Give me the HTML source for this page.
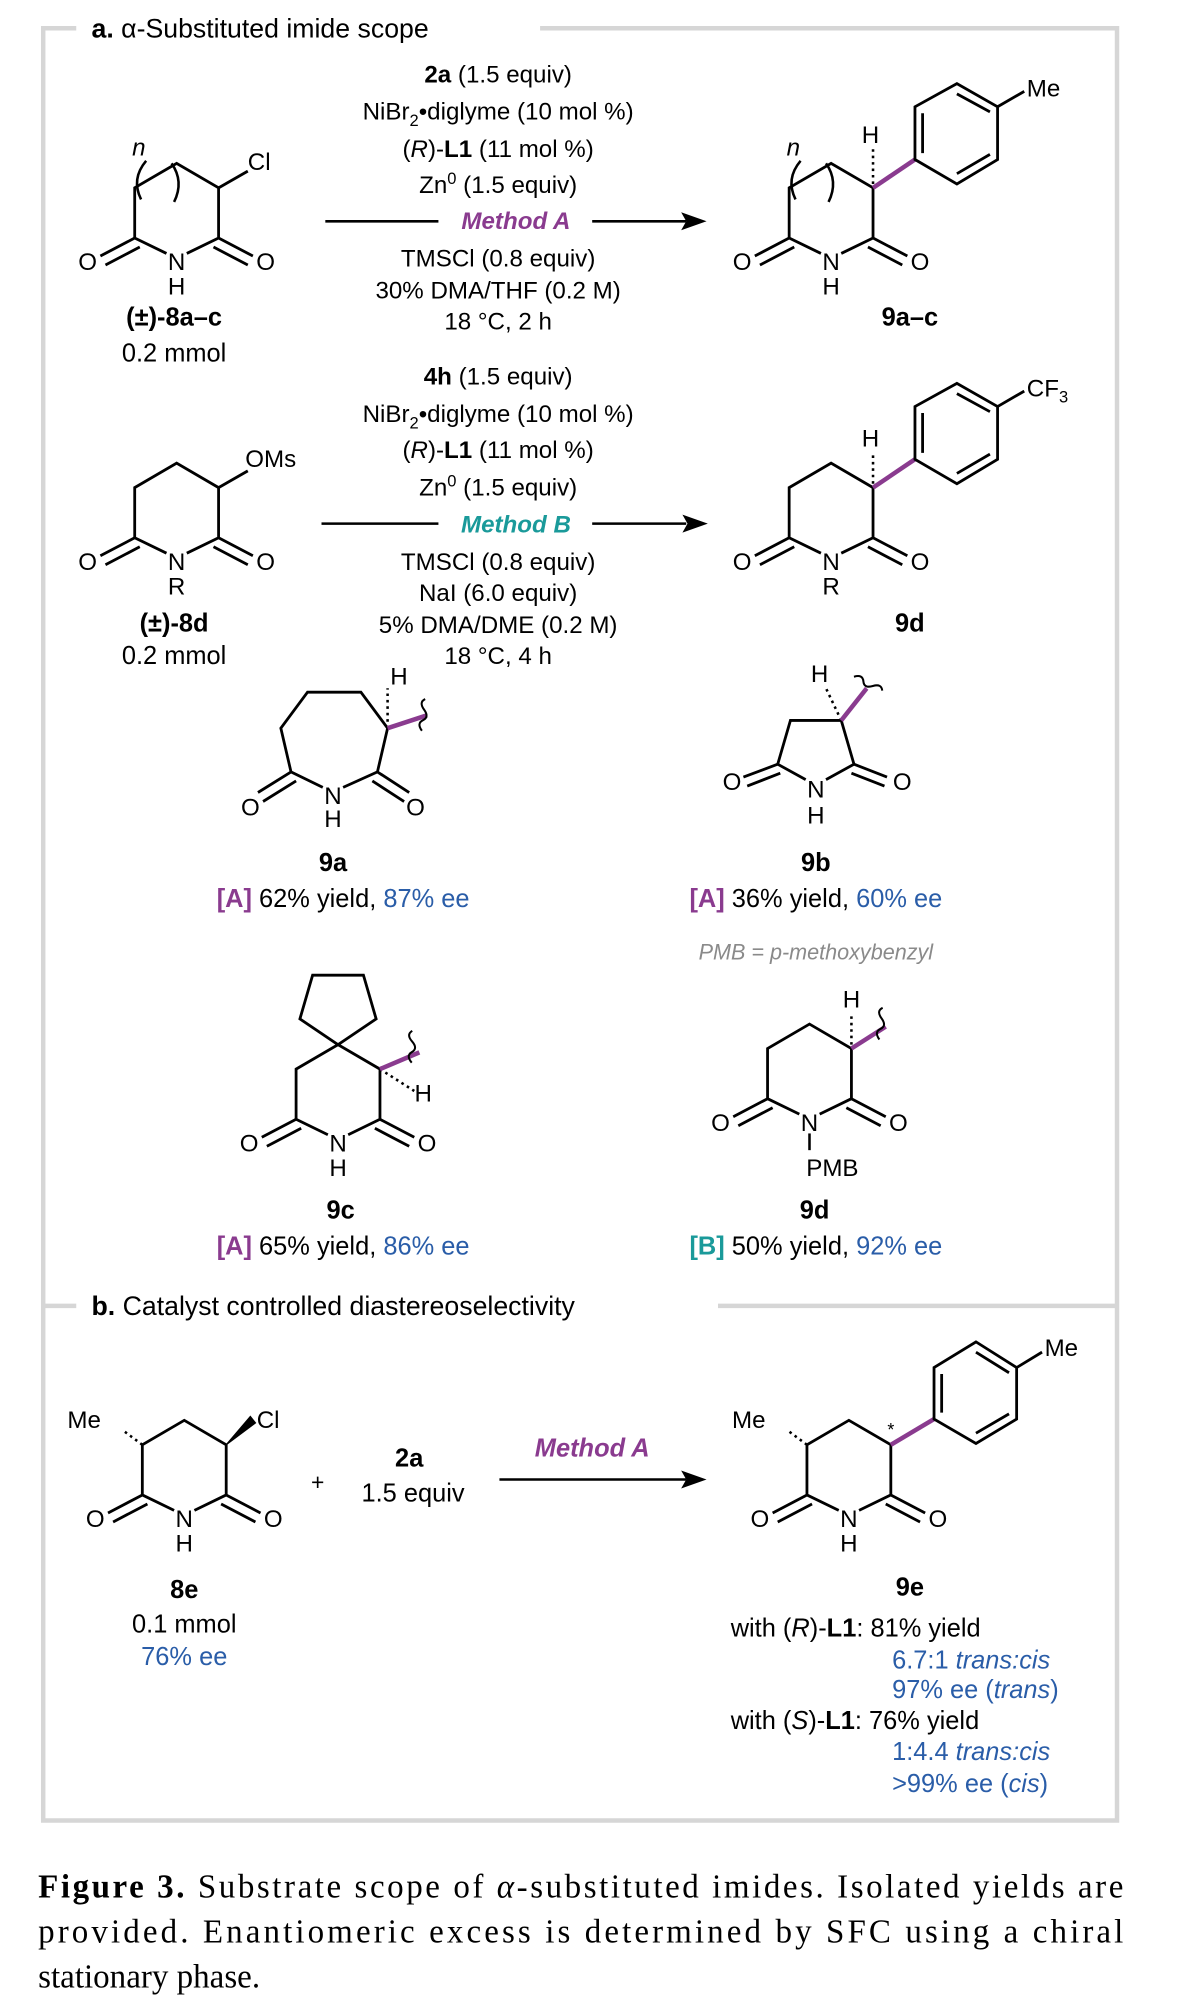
<!DOCTYPE html>
<html><head><meta charset="utf-8"><style>html,body{margin:0;padding:0;background:#fff}svg{display:block}</style></head><body>
<svg width="1192" height="2016" viewBox="0 0 938 1567" preserveAspectRatio="none" xmlns="http://www.w3.org/2000/svg" font-family="Liberation Sans, Arial, sans-serif" font-size="19">
<defs>
<g id="ring" fill="none" stroke="#000" stroke-width="2.2">
<path d="M-8,-6 L-33,-18 L-33,-57 L0,-76 L33,-57 L33,-18 L8,-6"/>
<path d="M-33,-18 L-60,-4 M-29,-11 L-56,3"/>
<path d="M33,-18 L60,-4 M29,-11 L56,3"/>
</g>
<g id="ringtxt" stroke="none" fill="#000" font-size="19" text-anchor="middle">
<text x="0" y="7">N</text><text x="-70" y="7">O</text><text x="70" y="7">O</text>
</g>
<path id="wavy" d="M0,0 q4,-6 8,-2 q4,4 8,-2 q4,-6 8,-2" fill="none" stroke="#000" stroke-width="1.6"/>
</defs>
<rect x="0" y="0" width="938" height="1567" fill="#fff"/>
<!-- frame -->
<path d="M60,22 L34,22 L34,1415 L879,1415 L879,22 L425,22" fill="none" stroke="#d6d6d6" stroke-width="3.5"/>
<path d="M34,1015 L60,1015 M565,1015 L879,1015" stroke="#d6d6d6" stroke-width="3.5"/>
<text x="72" y="29" font-size="21"><tspan font-weight="bold">a.</tspan> α-Substituted imide scope</text>
<text x="72" y="1022" font-size="21"><tspan font-weight="bold">b.</tspan> Catalyst controlled diastereoselectivity</text>

<!-- 8a-c -->
<g transform="translate(139,203)">
<use href="#ring"/><use href="#ringtxt"/>
<text x="0" y="26" text-anchor="middle">H</text>
<path d="M33,-57 L56,-70" stroke="#000" stroke-width="2.2"/>
<text x="56" y="-71">Cl</text>
<path d="M-24,-78 q-12,14 -4,30 M-4,-76 q10,14 2,30" fill="none" stroke="#000" stroke-width="2"/>
<text x="-35" y="-82" font-style="italic">n</text>
</g>
<text x="137" y="253" text-anchor="middle" font-weight="bold" font-size="20">(±)-8a–c</text>
<text x="137" y="281" text-anchor="middle" font-size="20">0.2 mmol</text>

<!-- conditions A -->
<g text-anchor="middle">
<text x="392" y="64"><tspan font-weight="bold">2a</tspan> (1.5 equiv)</text>
<text x="392" y="93">NiBr<tspan font-size="13" dy="5">2</tspan><tspan dy="-5">•diglyme (10 mol %)</tspan></text>
<text x="392" y="122">(<tspan font-style="italic">R</tspan>)-<tspan font-weight="bold">L1</tspan> (11 mol %)</text>
<text x="392" y="150">Zn<tspan font-size="13" dy="-7">0</tspan><tspan dy="7"> (1.5 equiv)</tspan></text>
<text x="406" y="178" font-weight="bold" font-style="italic" fill="#8a3b8f">Method A</text>
<text x="392" y="207">TMSCl (0.8 equiv)</text>
<text x="392" y="232">30% DMA/THF (0.2 M)</text>
<text x="392" y="256">18 °C, 2 h</text>
</g>
<path d="M256,172 L345,172 M466,172 L540,172" stroke="#000" stroke-width="2"/>
<path d="M556,172 L536,165 L540,172 L536,179 Z" fill="#000"/>

<!-- 9a-c -->
<g transform="translate(654,203)">
<use href="#ring"/><use href="#ringtxt"/>
<text x="0" y="26" text-anchor="middle">H</text>
<path d="M-24,-78 q-12,14 -4,30 M-4,-76 q10,14 2,30" fill="none" stroke="#000" stroke-width="2"/>
<text x="-35" y="-82" font-style="italic">n</text>
<path d="M33,-60 L33,-88" stroke="#000" stroke-width="2" stroke-dasharray="2,3"/>
<text x="31" y="-92" text-anchor="middle">H</text>
<path d="M33,-57 L66,-79" stroke="#8a3b8f" stroke-width="3.5"/>
<path d="M66,-79 L66,-120 L99,-138 L131,-120 L131,-79 L99,-60 Z M72,-84 L72,-115 M99,-130 L125,-116 M125,-83 L99,-68" fill="none" stroke="#000" stroke-width="2.2"/>
<path d="M131,-120 L152,-132" stroke="#000" stroke-width="2.2"/>
<text x="154" y="-128">Me</text>
</g>
<text x="716" y="253" text-anchor="middle" font-weight="bold" font-size="20">9a–c</text>

<!-- 8d -->
<g transform="translate(139,436)">
<use href="#ring"/><use href="#ringtxt"/>
<text x="0" y="26" text-anchor="middle">R</text>
<path d="M33,-57 L56,-70" stroke="#000" stroke-width="2.2"/>
<text x="54" y="-73">OMs</text>
</g>
<text x="137" y="491" text-anchor="middle" font-weight="bold" font-size="20">(±)-8d</text>
<text x="137" y="516" text-anchor="middle" font-size="20">0.2 mmol</text>

<g text-anchor="middle">
<text x="392" y="299"><tspan font-weight="bold">4h</tspan> (1.5 equiv)</text>
<text x="392" y="328">NiBr<tspan font-size="13" dy="5">2</tspan><tspan dy="-5">•diglyme (10 mol %)</tspan></text>
<text x="392" y="356">(<tspan font-style="italic">R</tspan>)-<tspan font-weight="bold">L1</tspan> (11 mol %)</text>
<text x="392" y="385">Zn<tspan font-size="13" dy="-7">0</tspan><tspan dy="7"> (1.5 equiv)</tspan></text>
<text x="406" y="414" font-weight="bold" font-style="italic" fill="#1a9a9a">Method B</text>
<text x="392" y="443">TMSCl (0.8 equiv)</text>
<text x="392" y="467">NaI (6.0 equiv)</text>
<text x="392" y="492">5% DMA/DME (0.2 M)</text>
<text x="392" y="516">18 °C, 4 h</text>
</g>
<path d="M253,407 L345,407 M466,407 L540,407" stroke="#000" stroke-width="2"/>
<path d="M557,407 L537,400 L541,407 L537,414 Z" fill="#000"/>

<!-- 9d top -->
<g transform="translate(654,436)">
<use href="#ring"/><use href="#ringtxt"/>
<text x="0" y="26" text-anchor="middle">R</text>
<path d="M33,-60 L33,-85" stroke="#000" stroke-width="2" stroke-dasharray="2,3"/>
<text x="31" y="-89" text-anchor="middle">H</text>
<path d="M33,-57 L66,-79" stroke="#8a3b8f" stroke-width="3.5"/>
<path d="M66,-79 L66,-120 L99,-138 L131,-120 L131,-79 L99,-60 Z M72,-84 L72,-115 M99,-130 L125,-116 M125,-83 L99,-68" fill="none" stroke="#000" stroke-width="2.2"/>
<path d="M131,-120 L152,-132" stroke="#000" stroke-width="2.2"/>
<text x="154" y="-128">CF<tspan font-size="13" dy="5">3</tspan></text>
</g>
<text x="716" y="491" text-anchor="middle" font-weight="bold" font-size="20">9d</text>

<!-- 9a -->
<g fill="none" stroke="#000" stroke-width="2.2">
<path d="M254,612 L229,600 L221,566 L242,538 L284,538 L305,566 L297,600 L270,612"/>
<path d="M229,600 L203,616 M233,607 L207,623"/>
<path d="M297,600 L322,616 M293,607 L318,623"/>
<path d="M305,566 L305,535" stroke-dasharray="2,3" stroke-width="2"/>
</g>
<path d="M305,566 L336,556" stroke="#8a3b8f" stroke-width="3.5"/>
<use href="#wavy" transform="translate(332,568) rotate(-70)"/>
<g text-anchor="middle"><text x="262" y="625">N</text><text x="262" y="643">H</text><text x="197" y="634">O</text><text x="327" y="634">O</text><text x="314" y="532">H</text></g>
<text x="262" y="677" text-anchor="middle" font-weight="bold" font-size="20">9a</text>
<text x="270" y="705" text-anchor="middle" font-size="20"><tspan fill="#8a3b8f" font-weight="bold">[A]</tspan> 62% yield, <tspan fill="#2a5da8">87% ee</tspan></text>

<!-- 9b -->
<g fill="none" stroke="#000" stroke-width="2.2">
<path d="M634,606 L612,594 L622,560 L662,560 L672,594 L650,606"/>
<path d="M612,594 L585,604 M614,601 L588,611"/>
<path d="M672,594 L698,604 M670,601 L696,611"/>
<path d="M662,560 L650,535" stroke-dasharray="2,3" stroke-width="2"/>
</g>
<path d="M662,560 L682,535" stroke="#8a3b8f" stroke-width="3.5"/>
<use href="#wavy" transform="translate(672,526) rotate(40)"/>
<g text-anchor="middle"><text x="642" y="620">N</text><text x="642" y="640">H</text><text x="576" y="614">O</text><text x="710" y="614">O</text><text x="645" y="530">H</text></g>
<text x="642" y="677" text-anchor="middle" font-weight="bold" font-size="20">9b</text>
<text x="642" y="705" text-anchor="middle" font-size="20"><tspan fill="#8a3b8f" font-weight="bold">[A]</tspan> 36% yield, <tspan fill="#2a5da8">60% ee</tspan></text>
<text x="642" y="746" text-anchor="middle" font-size="17" font-style="italic" fill="#8a8a8a">PMB = p-methoxybenzyl</text>

<!-- 9c -->
<g transform="translate(266,888)">
<use href="#ring"/><use href="#ringtxt"/>
<text x="0" y="26" text-anchor="middle">H</text>
<path d="M0,-76 L-30,-96 L-20,-130 L20,-130 L30,-96 Z" fill="none" stroke="#000" stroke-width="2.2"/>
<path d="M33,-57 L60,-40" stroke="#000" stroke-width="2" stroke-dasharray="2,3"/>
<text x="67" y="-32" text-anchor="middle">H</text>
<path d="M33,-57 L64,-70" stroke="#8a3b8f" stroke-width="3.5"/>
</g>
<use href="#wavy" transform="translate(324,826) rotate(-75)"/>
<text x="268" y="947" text-anchor="middle" font-weight="bold" font-size="20">9c</text>
<text x="270" y="975" text-anchor="middle" font-size="20"><tspan fill="#8a3b8f" font-weight="bold">[A]</tspan> 65% yield, <tspan fill="#2a5da8">86% ee</tspan></text>

<!-- 9d bottom -->
<g transform="translate(637,872)">
<use href="#ring"/><use href="#ringtxt"/>
<path d="M0,9 L0,22" stroke="#000" stroke-width="2"/>
<text x="18" y="42" text-anchor="middle">PMB</text>
<path d="M33,-60 L33,-85" stroke="#000" stroke-width="2" stroke-dasharray="2,3"/>
<text x="33" y="-89" text-anchor="middle">H</text>
<path d="M33,-57 L60,-74" stroke="#8a3b8f" stroke-width="3.5"/>
</g>
<use href="#wavy" transform="translate(692,808) rotate(-70)"/>
<text x="641" y="947" text-anchor="middle" font-weight="bold" font-size="20">9d</text>
<text x="642" y="975" text-anchor="middle" font-size="20"><tspan fill="#1a9a9a" font-weight="bold">[B]</tspan> 50% yield, <tspan fill="#2a5da8">92% ee</tspan></text>

<!-- 8e -->
<g transform="translate(145,1180)">
<use href="#ring"/><use href="#ringtxt"/>
<text x="0" y="26" text-anchor="middle">H</text>
<path d="M-33,-57 L-48,-68" stroke="#000" stroke-width="2" stroke-dasharray="2,3"/>
<text x="-92" y="-70">Me</text>
<path d="M33,-57 L56,-74 L52,-79 Z" fill="#000" stroke="#000" stroke-width="1"/>
<text x="57" y="-70">Cl</text>
</g>
<text x="145" y="1242" text-anchor="middle" font-weight="bold" font-size="20">8e</text>
<text x="145" y="1269" text-anchor="middle" font-size="20">0.1 mmol</text>
<text x="145" y="1294" text-anchor="middle" font-size="20" fill="#2a5da8">76% ee</text>
<text x="250" y="1158" text-anchor="middle" font-size="18">+</text>
<text x="322" y="1140" text-anchor="middle" font-weight="bold" font-size="20">2a</text>
<text x="325" y="1167" text-anchor="middle" font-size="20">1.5 equiv</text>
<text x="466" y="1132" text-anchor="middle" font-weight="bold" font-style="italic" fill="#8a3b8f" font-size="20">Method A</text>
<path d="M393,1150 L540,1150" stroke="#000" stroke-width="2"/>
<path d="M556,1150 L536,1143 L540,1150 L536,1157 Z" fill="#000"/>

<!-- 9e -->
<g transform="translate(668,1180)">
<use href="#ring"/><use href="#ringtxt"/>
<text x="0" y="26" text-anchor="middle">H</text>
<path d="M-33,-57 L-48,-68" stroke="#000" stroke-width="2" stroke-dasharray="2,3"/>
<text x="-92" y="-70">Me</text>
<text x="33" y="-64" text-anchor="middle" font-size="14">*</text>
<path d="M33,-57 L67,-77" stroke="#8a3b8f" stroke-width="3.5"/>
<path d="M67,-77 L67,-117 L100,-137 L132,-117 L132,-77 L100,-58 Z M73,-82 L73,-112 M100,-129 L126,-113 M126,-81 L100,-66" fill="none" stroke="#000" stroke-width="2.2"/>
<path d="M132,-117 L152,-129" stroke="#000" stroke-width="2.2"/>
<text x="154" y="-126">Me</text>
</g>
<text x="716" y="1240" text-anchor="middle" font-weight="bold" font-size="20">9e</text>
<g font-size="20">
<text x="575" y="1272">with (<tspan font-style="italic">R</tspan>)-<tspan font-weight="bold">L1</tspan>: 81% yield</text>
<text x="702" y="1297" fill="#2a5da8">6.7:1 <tspan font-style="italic">trans:cis</tspan></text>
<text x="702" y="1320" fill="#2a5da8">97% ee (<tspan font-style="italic">trans</tspan>)</text>
<text x="575" y="1344">with (<tspan font-style="italic">S</tspan>)-<tspan font-weight="bold">L1</tspan>: 76% yield</text>
<text x="702" y="1368" fill="#2a5da8">1:4.4 <tspan font-style="italic">trans:cis</tspan></text>
<text x="702" y="1393" fill="#2a5da8">&gt;99% ee (<tspan font-style="italic">cis</tspan>)</text>
</g>

<!-- caption -->
<g font-family="Liberation Serif, Times New Roman, serif" font-size="26">
<text x="30" y="1475" textLength="854" lengthAdjust="spacing"><tspan font-weight="bold">Figure 3.</tspan> Substrate scope of <tspan font-style="italic">α</tspan>-substituted imides. Isolated yields are</text>
<text x="30" y="1510" textLength="854" lengthAdjust="spacing">provided. Enantiomeric excess is determined by SFC using a chiral</text>
<text x="30" y="1545">stationary phase.</text>
</g>
</svg>
</body></html>
